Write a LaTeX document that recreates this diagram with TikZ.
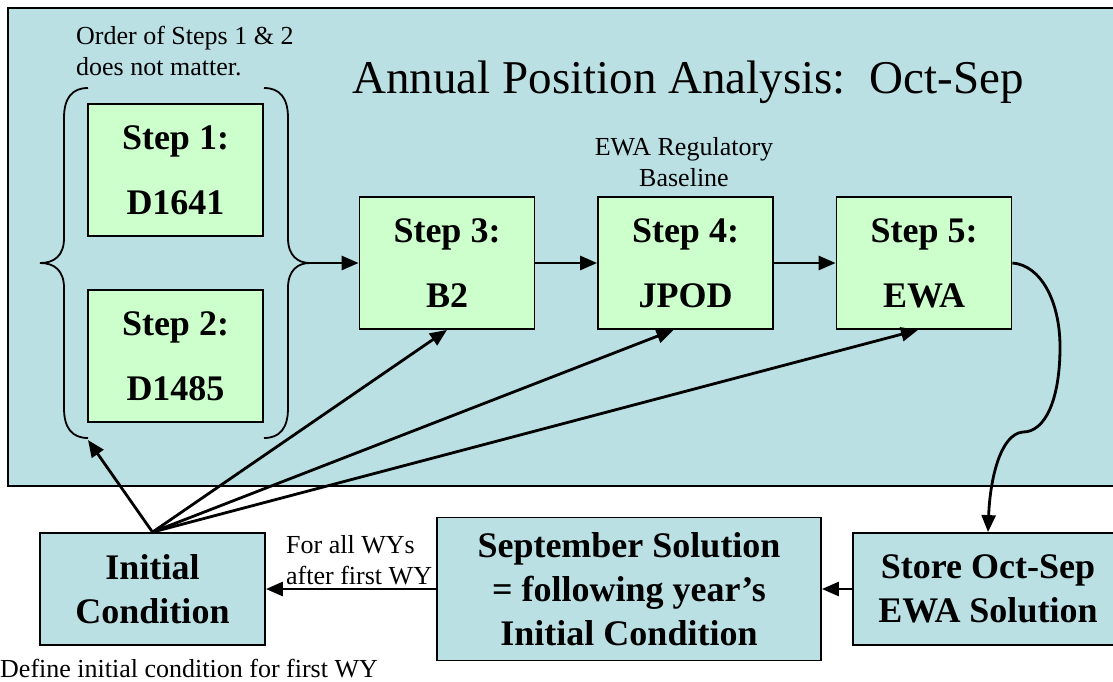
\documentclass[tikz,border=0pt]{standalone}
\usepackage{fontspec}
\setmainfont{Liberation Serif}
\usepackage{tikz}
\usetikzlibrary{positioning, calc}
\usetikzlibrary{arrows.meta}
\definecolor{panelblue}{RGB}{186,224,227}
\definecolor{stepgreen}{RGB}{204,255,204}

\begin{document}
\begin{tikzpicture}[x=1pt, y=-1pt, line join=miter]
	\def \rowoneht{263}
	\def \rowtwoht{589}
	\tikzstyle{s-node}=[draw=black, line width=1.8pt, fill=stepgreen, minimum width=175pt, minimum height=132pt, inner sep=0pt, align=center, font=\fontsize{36}{65}\selectfont\bfseries]
	\tikzstyle{b-node}=[draw=black, line width=1.8pt, fill=panelblue, minimum height=112pt, inner sep=0pt, align=center, font=\fontsize{36}{44}\selectfont\bfseries]
	\tikzstyle{t-node}=[inner sep=0pt, font=\fontsize{26}{31}\selectfont]
	\tikzstyle{arr}=[line width=2.8pt, -{Triangle[length=17pt,width=14pt]}]
	\tikzstyle{brace}=[line width=1.8pt]
	\useasboundingbox (0,0) rectangle (1113,681);
	\clip (0,0) rectangle (1113,681);
	\filldraw[fill=panelblue, draw=black, line width=1.8pt] (8,8) rectangle (1140,486);
	\node[t-node, font=\fontsize{47}{50}\selectfont] (title) at (688,82) {Annual Position Analysis:\ \ Oct-Sep};
	\node[t-node, anchor=north west, align=left] (order) at (76,26) {Order of Steps 1 \& 2\\does not matter.};
	\node[t-node, anchor=north, align=center] (base) at (684,137) {EWA Regulatory\\Baseline};
	% steps
	\node[s-node] (step1) at (175.5,170) {Step 1:\\D1641};
	\node[s-node] (step2) at (175.5,356) {Step 2:\\D1485};
	\node[s-node] (step3) at (447,\rowoneht) {Step 3:\\B2};
	\node[s-node] (step4) at (685.5,\rowoneht) {Step 4:\\JPOD};
	\node[s-node] (step5) at (924,\rowoneht) {Step 5:\\EWA};
	% braces round steps 1 and 2
	\draw[brace] (88,88) .. controls (72,88) and (64,98) .. (64,118) -- (64,238) .. controls (64,256) and (54,263) .. (40,263) .. controls (54,263) and (64,270) .. (64,288) -- (64,408) .. controls (64,428) and (72,438) .. (88,438);
	\draw[brace] (264,88) .. controls (280,88) and (288,98) .. (288,118) -- (288,238) .. controls (288,256) and (298,263) .. (310,263) .. controls (298,263) and (288,270) .. (288,288) -- (288,408) .. controls (288,428) and (280,438) .. (264,438);
	\coordinate (brtip) at (310,263);
	\coordinate (brbot) at (88,440);
	% bottom row
	\node[b-node, minimum width=225pt] (init) at (152.5,\rowtwoht) {Initial\\Condition};
	\node[b-node, minimum width=384pt, minimum height=143pt] (sept) at (629,\rowtwoht) {September Solution\\= following year’s\\Initial Condition};
	\node[b-node, minimum width=270pt] (store) at (988,\rowtwoht) {Store Oct-Sep\\EWA Solution};
	\node[t-node, anchor=north west, align=left] (allwy) at (286,535) {For all WYs\\after first WY};
	\node[t-node, anchor=base west] (first) at (0,677) {Define initial condition for first WY};
	% connectors
	\draw[arr] (brtip) -- (step3.west);
	\draw[arr] (step3) -- (step4);
	\draw[arr] (step4) -- (step5);
	\draw[arr] (step5.east) .. controls (1040,265) and (1060,300) .. (1060,347) .. controls (1060,400) and (1045,432) .. (1023,432) .. controls (1000,434) and (990,480) .. (store.north);
	\draw[arr] (store) -- (sept);
	\draw[arr] (sept) -- (init);
	\draw[arr] (init.north) -- (brbot);
	\draw[arr] (init.north) -- (step3.south);
	\draw[arr] (init.north) -- ($(step4.south)+(-12,0)$);
	\draw[arr] (init.north) -- ($(step5.south)+(-6,0)$);
\end{tikzpicture}
\end{document}
